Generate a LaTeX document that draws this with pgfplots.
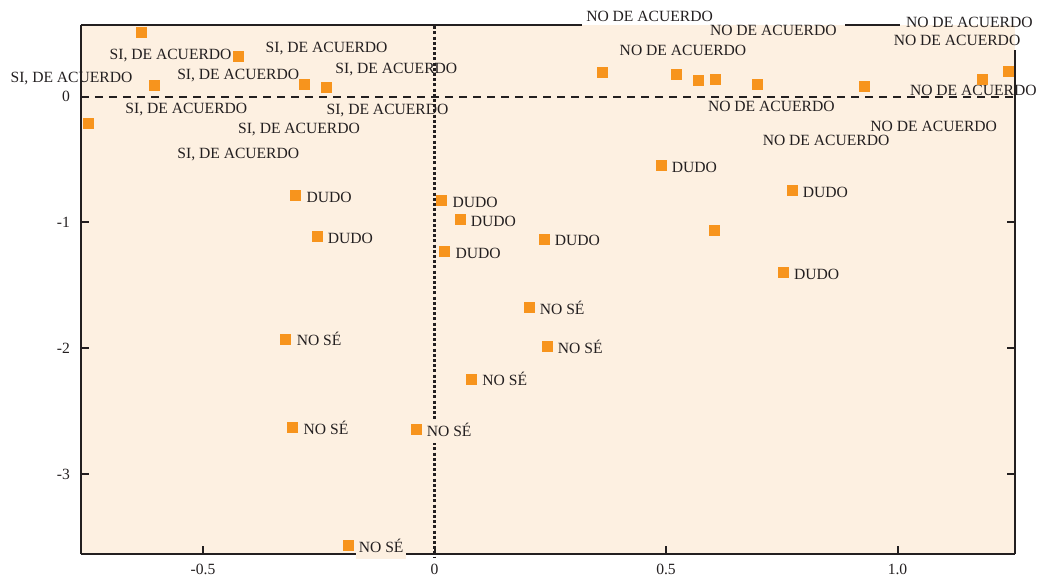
\documentclass[border=0pt]{standalone}
\usepackage{fontspec}
\setmainfont{Liberation Serif}
\usepackage{pgfplots}
\pgfplotsset{compat=1.18}
\definecolor{peach}{HTML}{FDF0E1}
\definecolor{mk}{HTML}{F7941D}
\definecolor{ink}{HTML}{231F20}
\newcommand{\lf}{\fontsize{7.8}{9}\selectfont}
\tikzset{lab/.style={anchor=base, yshift=-2.6pt, inner sep=0pt, font=\lf, text=ink}}
\begin{document}
\begin{tikzpicture}
\useasboundingbox (0,0) rectangle (519pt,288pt);
\begin{axis}[
  at={(40.5pt,11pt)}, anchor=south west,
  scale only axis, width=466.85pt, height=264.5pt,
  xmin=-0.7635, xmax=1.2531, ymin=-3.635, ymax=0.570,
  clip=false,
  axis background/.style={fill=peach},
  axis x line*=bottom, axis y line*=left,
  x axis line style={-, line width=0.8pt, ink},
  y axis line style={-, line width=1.2pt, ink},
  tick align=inside,
  major tick length=4pt,
  every tick/.style={line width=1pt, ink},
  xtick={-0.5,0,0.5,1}, xticklabels={-0.5,0,0.5,1.0},
  ytick={-3,-2,-1,0}, yticklabels={-3,-2,-1,0},
  xticklabel style={font=\lf, text=ink, yshift=-1.6pt},
  yticklabel style={font=\lf, text=ink, xshift=-2pt},
]
% top line (broken where labels sit) and right axis
\draw[ink, line width=0.7pt] (axis cs:-0.7635,0.570) -- (axis cs:0.3186,0.570);
\draw[ink, line width=0.7pt] (axis cs:0.8866,0.570) -- (axis cs:1.0054,0.570);
\draw[ink, line width=1.1pt] (axis cs:1.2531,-3.635) -- (axis cs:1.2531,0.371);
\draw[ink, line width=1pt] (axis cs:1.2531,-1) -- ([xshift=-4pt]axis cs:1.2531,-1);
\draw[ink, line width=1pt] (axis cs:1.2531,-2) -- ([xshift=-4pt]axis cs:1.2531,-2);
\draw[ink, line width=1pt] (axis cs:1.2531,-3) -- ([xshift=-4pt]axis cs:1.2531,-3);
% reference lines
\draw[ink, line width=0.85pt, dash pattern=on 4.2pt off 2.8pt] (axis cs:-0.7635,0) -- (axis cs:1.2531,0);
\draw[ink, line width=1.25pt, dash pattern=on 1.5pt off 1.1pt] (axis cs:0,0.560) -- ([yshift=-1.5pt]axis cs:0,-3.635);

% unlabelled points
\addplot[only marks, mark=square*, mark size=2.5pt, color=mk, mark options={draw=none, fill=mk}] coordinates {
(-0.632,0.509) (-0.423,0.318) (-0.606,0.093) (-0.280,0.101) (-0.234,0.077) (-0.747,-0.215)
(0.362,0.191) (0.522,0.180) (0.569,0.127) (0.606,0.135) (0.698,0.095) (0.928,0.080) (1.184,0.141) (1.239,0.199)
(0.604,-1.060)
};
% labelled points
\addplot[only marks, mark=square*, mark size=2.5pt, color=mk, mark options={draw=none, fill=mk},
  point meta=explicit symbolic, nodes near coords,
  every node near coord/.append style={anchor=base west, xshift=3.75pt, yshift=-3.5pt, fill=peach,
    inner xsep=1.5pt, inner ysep=0pt, text height=8.6pt, text depth=3.4pt, font=\lf, text=ink}] coordinates {
(-0.300,-0.787) [DUDO]
(-0.254,-1.113) [DUDO]
(0.0155,-0.827) [DUDO]
(0.055,-0.978) [DUDO]
(0.022,-1.232) [DUDO]
(0.489,-0.543) [DUDO]
(0.772,-0.742) [DUDO]
(0.2365,-1.131) [DUDO]
(0.753,-1.399) [DUDO]
(-0.321,-1.926) [NO SÉ]
(0.080,-2.244) [NO SÉ]
(0.204,-1.672) [NO SÉ]
(0.243,-1.982) [NO SÉ]
(-0.306,-2.626) [NO SÉ]
(-0.040,-2.647) [NO SÉ]
(-0.187,-3.569) [NO SÉ]
};
% category labels
\node[lab] at (axis cs:-0.570,0.339) {SI, DE ACUERDO};
\node[lab] at (axis cs:-0.233,0.395) {SI, DE ACUERDO};
\node[lab] at (axis cs:-0.784,0.154) {SI, DE ACUERDO};
\node[lab] at (axis cs:-0.424,0.178) {SI, DE ACUERDO};
\node[lab] at (axis cs:-0.0825,0.223) {SI, DE ACUERDO};
\node[lab] at (axis cs:-0.536,-0.095) {SI, DE ACUERDO};
\node[lab] at (axis cs:-0.1015,-0.100) {SI, DE ACUERDO};
\node[lab] at (axis cs:-0.2927,-0.249) {SI, DE ACUERDO};
\node[lab] at (axis cs:-0.4238,-0.453) {SI, DE ACUERDO};
\node[lab] at (axis cs:0.4644,0.6415) {NO DE ACUERDO};
\node[lab] at (axis cs:0.7317,0.5246) {NO DE ACUERDO};
\node[lab] at (axis cs:0.5367,0.3712) {NO DE ACUERDO};
\node[lab] at (axis cs:1.1551,0.5882) {NO DE ACUERDO};
\node[lab] at (axis cs:1.1285,0.4507) {NO DE ACUERDO};
\node[lab] at (axis cs:1.1637,0.0477) {NO DE ACUERDO};
\node[lab] at (axis cs:0.7274,-0.0739) {NO DE ACUERDO};
\node[lab] at (axis cs:1.0782,-0.2329) {NO DE ACUERDO};
\node[lab] at (axis cs:0.8456,-0.3498) {NO DE ACUERDO};
\end{axis}
\end{tikzpicture}
\end{document}
